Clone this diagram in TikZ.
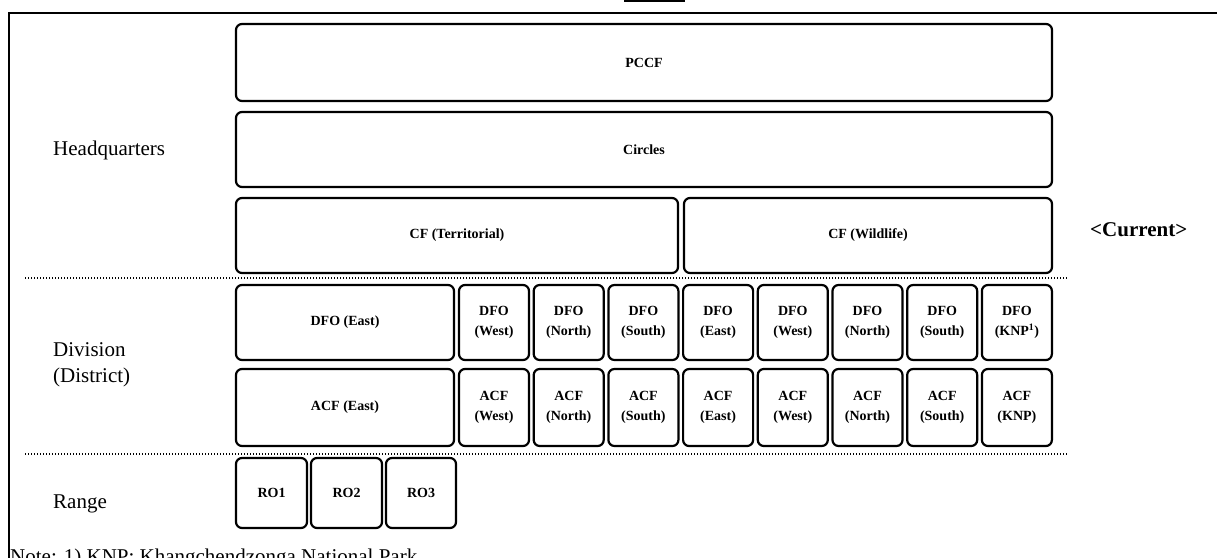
\documentclass[tikz,border=0pt]{standalone}
\usepackage{fontspec}
\setmainfont{Liberation Serif}
\begin{document}
\begin{tikzpicture}[x=1pt, y=-1pt,
  lvl/.style={font=\fontsize{21}{26}\selectfont, anchor=west, align=left, inner sep=0pt},
  unit/.style={draw, line width=2.2pt, rounded corners=6pt, inner sep=0pt, align=center,
    font=\fontsize{14}{20}\selectfont\bfseries},
  cell/.style={unit, minimum width=70pt},
  sep/.style={line width=1.2pt, dash pattern=on 1pt off 2pt}]
\useasboundingbox (0,0) rectangle (1217,557);
\draw[line width=2pt] (1230,12.5) -- (8.5,12.5) -- (8.5,575);
\draw[line width=1.5pt] (625,-10) rectangle (684,1);
\node[unit, minimum width=816pt, minimum height=77pt] (pccf) at (644,62.5) {PCCF};
\node[unit, minimum width=816pt, minimum height=75pt] (circles) at (644,149.5) {Circles};
\node[unit, minimum width=442pt, minimum height=75pt] (cfterr) at (457,235.5) {CF (Territorial)};
\node[unit, minimum width=368pt, minimum height=75pt] (cfwild) at (868,235.5) {CF (Wildlife)};
\node[unit, minimum width=218pt, minimum height=75pt] (dfoeast) at (345,322.5) {DFO (East)};
\node[unit, minimum width=218pt, minimum height=77pt] (acfeast) at (345,407.5) {ACF (East)};
\foreach \lbl [count=\i from 0] in {West,North,South,East,West,North,South,KNP\textsuperscript{1}}
  \node[cell, minimum height=75pt] (dfo\i) at ({494+74.7*\i},322.5) {DFO\\(\lbl)};
\foreach \lbl [count=\i from 0] in {West,North,South,East,West,North,South,KNP}
  \node[cell, minimum height=77pt] (acf\i) at ({494+74.7*\i},407.5) {ACF\\(\lbl)};
\node[unit, minimum width=71pt, minimum height=70pt] (ro1) at (271.5,493) {RO1};
\node[unit, minimum width=71pt, minimum height=70pt] (ro2) at (346.5,493) {RO2};
\node[unit, minimum width=70pt, minimum height=70pt] (ro3) at (421,493) {RO3};
\draw[sep] (25,278) -- (1068,278);
\draw[sep] (25,454) -- (1068,454);
\node[lvl] (hq) at (53,150) {Headquarters};
\node[lvl] (div) at (53,365) {Division\\(District)};
\node[lvl] (rng) at (53,504) {Range};
\node[lvl, font=\fontsize{21}{26}\selectfont\bfseries] (cur) at (1090,230) {<Current>};
\node[lvl, anchor=base west] (note) at (10,563) {Note: 1) KNP: Khangchendzonga National Park};
\end{tikzpicture}
\end{document}
